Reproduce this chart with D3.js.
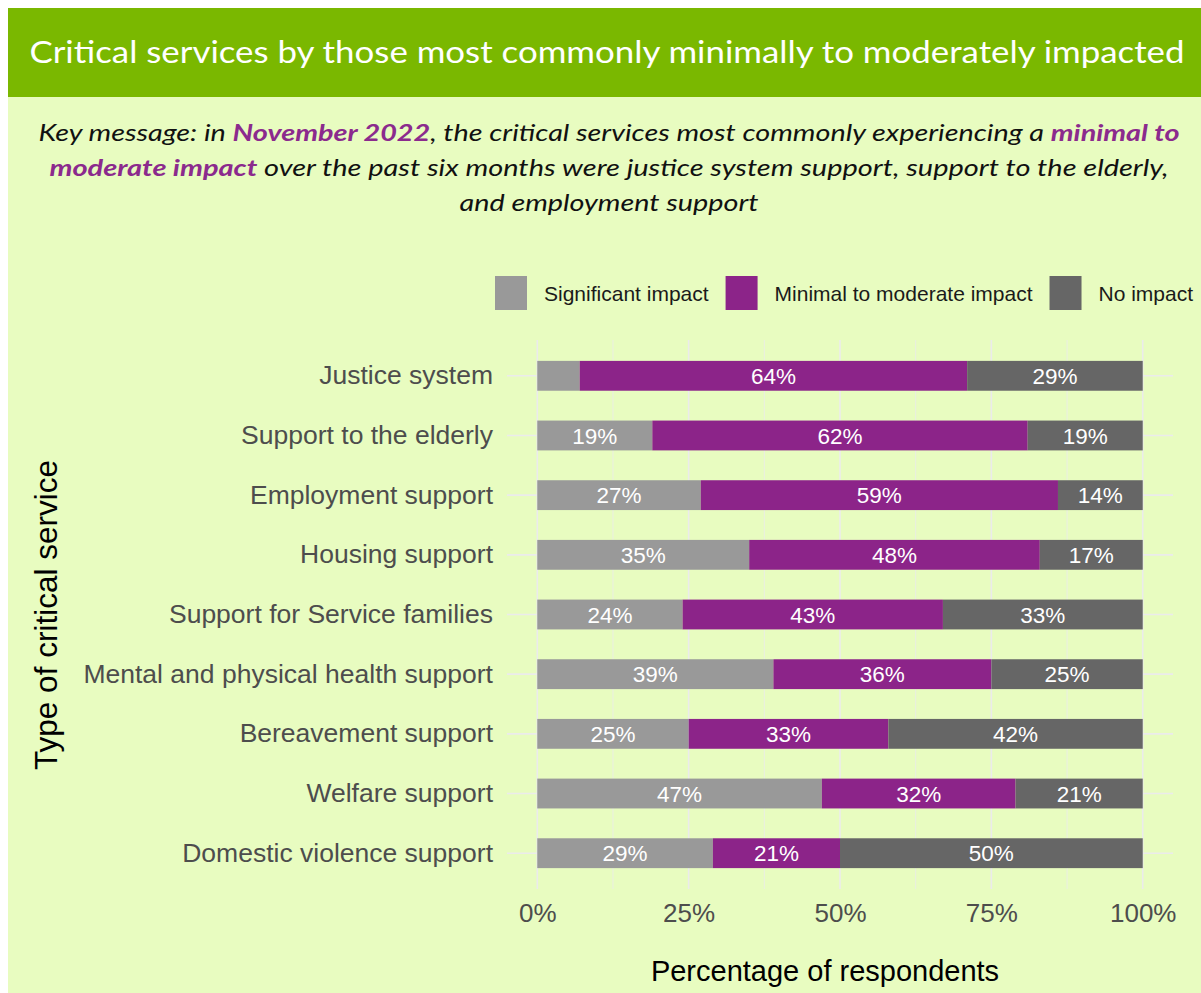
<!DOCTYPE html>
<html>
<head>
<meta charset="utf-8">
<script src="https://cdn.jsdelivr.net/npm/d3@7"></script>
<style>
  html, body { margin: 0; padding: 0; background: #ffffff; }
  svg { display: block; }
</style>
</head>
<body>
<svg id="chart" width="1201" height="993"></svg>
<script>
// Critical services, share of respondents by level of impact (November 2022)
const categories = [
  "Justice system",
  "Support to the elderly",
  "Employment support",
  "Housing support",
  "Support for Service families",
  "Mental and physical health support",
  "Bereavement support",
  "Welfare support",
  "Domestic violence support"
];
const seriesNames = ["Significant impact", "Minimal to moderate impact", "No impact"];
const significant = [7, 19, 27, 35, 24, 39, 25, 47, 29];
const minimalModerate = [64, 62, 59, 48, 43, 36, 33, 32, 21];
const noImpact = [29, 19, 14, 17, 33, 25, 42, 21, 50];
const xTicks = [0, 25, 50, 75, 100];
const xMinorTicks = [12.5, 37.5, 62.5, 87.5];

const colours = ["#999999", "#8c2489", "#666666"];
const svg = d3.select("#chart");
const W = 1201, H = 993;

// page panels
svg.append("rect").attr("x", 8).attr("y", 8).attr("width", W - 8).attr("height", H - 8).attr("fill", "#e8fcc0");
svg.append("rect").attr("x", 8).attr("y", 8).attr("width", W - 8).attr("height", 89).attr("fill", "#7ab800");

// header title
svg.append("text")
  .attr("x", 607).attr("y", 63)
  .attr("text-anchor", "middle")
  .attr("font-family", "Lato, 'Open Sans', sans-serif")
  .attr("font-size", 31)
  .attr("fill", "#ffffff")
  .attr("textLength", 1155).attr("lengthAdjust", "spacingAndGlyphs")
  .text("Critical services by those most commonly minimally to moderately impacted");

// key message, three centred italic lines with highlighted phrases
const keyLines = [
  { y: 141, len: 1141, parts: [["Key message: in ", false], ["November 2022", true], [", the critical services most commonly experiencing a ", false], ["minimal to", true]] },
  { y: 176, len: 1119, parts: [["moderate impact", true], [" over the past six months were justice system support, support to the elderly,", false]] },
  { y: 211, len: 299, parts: [["and employment support", false]] }
];
keyLines.forEach(line => {
  const t = svg.append("text")
    .attr("x", 609).attr("y", line.y)
    .attr("text-anchor", "middle")
    .attr("font-family", "Lato, 'Open Sans', sans-serif")
    .attr("font-style", "italic")
    .attr("font-size", 23)
    .attr("fill", "#111111")
    .attr("textLength", line.len).attr("lengthAdjust", "spacingAndGlyphs");
  line.parts.forEach(([s, hi]) => {
    t.append("tspan").text(s)
      .attr("font-weight", hi ? "bold" : "normal")
      .attr("fill", hi ? "#8b2a8d" : "#111111");
  });
});

// scales
const x = d3.scaleLinear().domain([-5, 105]).range([507, 1173]);
const y = d3.scaleBand().domain(categories).range([340, 889]).paddingInner(0.5).paddingOuter(0.35);

const chartFont = "'Liberation Sans', Arial, Helvetica, sans-serif";

// grid
const grid = svg.append("g");
grid.selectAll("line.minor").data(xMinorTicks).join("line")
  .attr("x1", d => x(d)).attr("x2", d => x(d)).attr("y1", 340).attr("y2", 889)
  .attr("stroke", "#ebebeb").attr("stroke-width", 0.8);
grid.selectAll("line.majorx").data(xTicks).join("line")
  .attr("x1", d => x(d)).attr("x2", d => x(d)).attr("y1", 340).attr("y2", 889)
  .attr("stroke", "#ebebeb").attr("stroke-width", 1.6);
grid.selectAll("line.majory").data(categories).join("line")
  .attr("x1", 507).attr("x2", 1173)
  .attr("y1", d => y(d) + y.bandwidth() / 2).attr("y2", d => y(d) + y.bandwidth() / 2)
  .attr("stroke", "#ebebeb").attr("stroke-width", 1.6);

// stacked bars
const rows = categories.map((c, i) => ({ category: c, s0: significant[i], s1: minimalModerate[i], s2: noImpact[i] }));
const stack = d3.stack().keys(["s0", "s1", "s2"])(rows);
const layers = svg.append("g").selectAll("g").data(stack).join("g").attr("fill", (d, i) => colours[i]);
layers.selectAll("rect").data(d => d).join("rect")
  .attr("x", d => x(d[0]))
  .attr("width", d => x(d[1]) - x(d[0]))
  .attr("y", d => y(d.data.category))
  .attr("height", y.bandwidth());

// value labels inside the segments
const labels = svg.append("g")
  .attr("font-family", chartFont).attr("font-size", 22.5).attr("fill", "#ffffff")
  .attr("text-anchor", "middle");
stack.forEach(layer => {
  layer.forEach(d => {
    const v = d[1] - d[0];
    if (v < 10) return;
    labels.append("text")
      .attr("x", x((d[0] + d[1]) / 2))
      .attr("y", y(d.data.category) + y.bandwidth() / 2)
      .attr("dy", "0.36em")
      .text(v + "%");
  });
});

// axes
const xAxis = svg.append("g").attr("transform", "translate(0,889)")
  .call(d3.axisBottom(x).tickValues(xTicks).tickFormat(d => d + "%").tickSize(0).tickPadding(15));
xAxis.select(".domain").remove();
xAxis.selectAll("text").attr("font-family", chartFont).attr("font-size", 26).attr("fill", "#4d4d4d");

const yAxis = svg.append("g").attr("transform", "translate(507,0)")
  .call(d3.axisLeft(y).tickSize(0).tickPadding(14));
yAxis.select(".domain").remove();
yAxis.selectAll("text").attr("font-family", chartFont).attr("font-size", 26.5).attr("fill", "#4d4d4d");

// axis titles
svg.append("text")
  .attr("x", 825).attr("y", 981)
  .attr("text-anchor", "middle")
  .attr("font-family", chartFont).attr("font-size", 29).attr("fill", "#000000")
  .text("Percentage of respondents");
svg.append("text")
  .attr("transform", "translate(57,615) rotate(-90)")
  .attr("text-anchor", "middle")
  .attr("font-family", chartFont).attr("font-size", 31.5).attr("fill", "#000000")
  .text("Type of critical service");

// legend
const legend = svg.append("g");
let lx = 495;
seriesNames.forEach((name, i) => {
  legend.append("rect").attr("x", lx).attr("y", 276).attr("width", 32).attr("height", 34).attr("fill", colours[i]);
  const t = legend.append("text")
    .attr("x", lx + 49).attr("y", 293).attr("dy", "0.36em")
    .attr("font-family", chartFont).attr("font-size", 21).attr("fill", "#1a1a1a")
    .text(name);
  lx += 49 + t.node().getComputedTextLength() + 17;
});
</script>
</body>
</html>
